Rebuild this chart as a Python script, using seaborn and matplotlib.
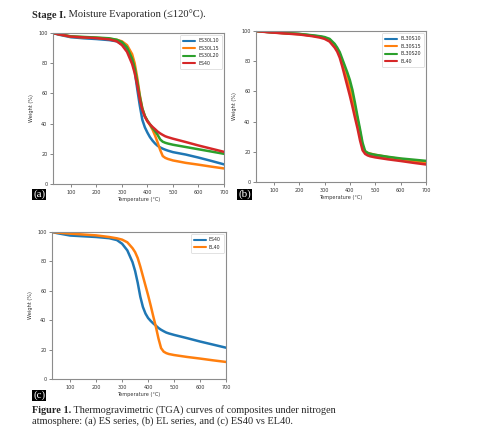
import numpy as np
import pandas as pd
import seaborn as sns
import matplotlib.pyplot as plt

# temperatura (°C) comum a todas as curvas
temp = [30, 50, 100, 150, 200, 250, 280, 300, 320, 340, 350, 360, 370, 380, 390,
        400, 410, 420, 430, 440, 450, 460, 470, 480, 500, 550, 600, 650, 700]

# serie ES
es30l10 = [100, 99.0, 97.2, 96.5, 96.0, 95.3, 94.5, 92.5, 89.0, 81.5, 75.0, 63.0, 52.0, 42.5, 37.5,
           34.0, 31.0, 28.7, 26.8, 25.3, 24.2, 23.4, 22.7, 22.1, 21.1, 19.5, 17.5, 15.3, 13.0]
es30l15 = [100, 99.3, 97.6, 97.2, 96.8, 96.2, 95.5, 94.5, 92.0, 86.0, 80.0, 70.5, 59.0, 50.0, 45.0,
           41.5, 39.0, 36.0, 32.0, 27.5, 22.5, 18.5, 17.3, 16.6, 15.6, 14.0, 12.8, 11.5, 10.3]
es30l20 = [100, 99.4, 97.8, 97.4, 97.0, 96.5, 95.5, 94.0, 90.5, 83.0, 77.0, 68.0, 58.0, 50.0, 45.0,
           42.0, 39.5, 37.0, 35.0, 32.5, 29.5, 28.0, 27.3, 26.8, 26.0, 24.5, 23.0, 21.5, 20.0]
es40 = [100, 99.2, 97.6, 97.1, 96.6, 95.8, 94.5, 92.0, 87.5, 79.5, 73.5, 65.5, 56.0, 49.0, 44.5,
        41.5, 39.5, 37.8, 36.3, 34.7, 33.5, 32.5, 31.6, 31.0, 30.0, 27.8, 25.5, 23.4, 21.3]

# serie EL
el30s10 = [100, 99.7, 99.0, 98.5, 98.0, 97.0, 96.4, 95.7, 94.2, 90.8, 88.3, 84.8, 79.8, 74.7, 69.5,
           64.0, 58.0, 50.0, 41.5, 33.0, 24.0, 19.6, 18.6, 18.1, 17.3, 15.9, 14.8, 13.8, 12.9]
el30s15 = [100, 99.7, 99.0, 98.4, 97.9, 96.9, 96.2, 95.5, 93.9, 90.2, 87.6, 84.0, 78.6, 73.0, 67.5,
           61.5, 55.0, 47.5, 39.0, 31.0, 23.0, 20.1, 19.3, 18.8, 18.0, 16.5, 15.2, 13.9, 12.6]
el30s20 = [100, 99.7, 99.1, 98.6, 98.1, 97.2, 96.6, 96.0, 94.8, 91.5, 89.0, 86.0, 81.5, 77.0, 72.5,
           67.5, 61.0, 52.5, 43.5, 35.0, 26.0, 20.5, 19.3, 18.7, 18.0, 16.7, 15.6, 14.8, 14.0]
el40 = [100, 99.6, 98.9, 98.3, 97.7, 96.6, 95.7, 94.8, 93.0, 89.0, 86.3, 82.3, 76.5, 70.0, 63.5,
        57.0, 50.0, 42.6, 35.5, 27.5, 21.0, 18.6, 17.6, 17.0, 16.3, 15.0, 13.9, 12.7, 11.6]

panel_a = {'ES30L10': es30l10, 'ES30L15': es30l15, 'ES30L20': es30l20, 'ES40': es40}
panel_b = {'EL30S10': el30s10, 'EL30S15': el30s15, 'EL30S20': el30s20, 'EL40': el40}
panel_c = {'ES40': es40, 'EL40': el40}

x_ticks = [100, 200, 300, 400, 500, 600, 700]
y_ticks = [0, 20, 40, 60, 80, 100]

sns.set_style("white")
plt.rcParams['font.family'] = ['DejaVu Sans']

W, H = 498, 438
fig = plt.figure(figsize=(W / 100, H / 100), dpi=100)


def px_axes(x0, y0, x1, y1):
    return fig.add_axes([x0 / W, 1 - y1 / H, (x1 - x0) / W, (y1 - y0) / H])


def tga(ax, series):
    df = pd.concat([pd.DataFrame({'Temperature': temp, 'Weight': v, 'Sample': k})
                    for k, v in series.items()], ignore_index=True)
    sns.lineplot(data=df, x='Temperature', y='Weight', hue='Sample',
                 palette=sns.color_palette('tab10', len(series)), lw=1.8, ax=ax)
    ax.set_xlim(30, 700)
    ax.set_ylim(0, 100)
    ax.set_xticks(x_ticks)
    ax.set_yticks(y_ticks)
    ax.set_xlabel('Temperature (°C)', fontsize=3.6, color='#333333', labelpad=2)
    ax.set_ylabel('Weight (%)', fontsize=3.6, color='#333333', labelpad=3)
    ax.tick_params(labelsize=3.5, length=2, width=0.5, pad=2, colors='#555555',
                   labelcolor='#333333', bottom=True, left=True)
    for s in ax.spines.values():
        s.set_color('#8c8c8c')
        s.set_linewidth(0.8)
    leg = ax.legend(loc='upper right', fontsize=3.4, handlelength=2.6,
                    borderpad=0.6, labelspacing=0.55, handletextpad=0.6, frameon=True)
    leg.get_frame().set_edgecolor('#cccccc')
    leg.get_frame().set_linewidth(0.5)
    for ln in leg.get_lines():
        ln.set_linewidth(1.5)


ax_a = px_axes(53, 33, 224, 184)
ax_b = px_axes(256, 31, 426, 182)
ax_c = px_axes(52, 232, 226, 379)
tga(ax_a, panel_a)
tga(ax_b, panel_b)
tga(ax_c, panel_c)

# textos em serif
serif = 'Liberation Serif'
fig.canvas.draw()
rend = fig.canvas.get_renderer()


def rich(x, y, bold, rest, size):
    t = fig.text(x / W, 1 - y / H, bold, family=serif, weight='bold', fontsize=size,
                 va='baseline', ha='left')
    bb = t.get_window_extent(rend)
    fig.text(bb.x1 / W, 1 - y / H, ' ' + rest, family=serif, fontsize=size,
             va='baseline', ha='left')


rich(32, 18, 'Stage I.', 'Moisture Evaporation (≤120°C).', 7.6)
rich(32, 413, 'Figure 1.', 'Thermogravimetric (TGA) curves of composites under nitrogen', 7.4)
fig.text(32 / W, 1 - 424 / H, 'atmosphere: (a) ES series, (b) EL series, and (c) ES40 vs EL40.',
         family=serif, fontsize=7.4, va='baseline', ha='left')

# etiquetas dos paineis
for lab, x, y in [('(a)', 33, 197), ('(b)', 238, 197), ('(c)', 33, 398)]:
    fig.text(x / W, 1 - y / H, lab, family=serif, fontsize=8, color='white',
             va='baseline', ha='left',
             bbox=dict(facecolor='black', edgecolor='none', pad=0.6))

fig.savefig('out.png', dpi=100)
